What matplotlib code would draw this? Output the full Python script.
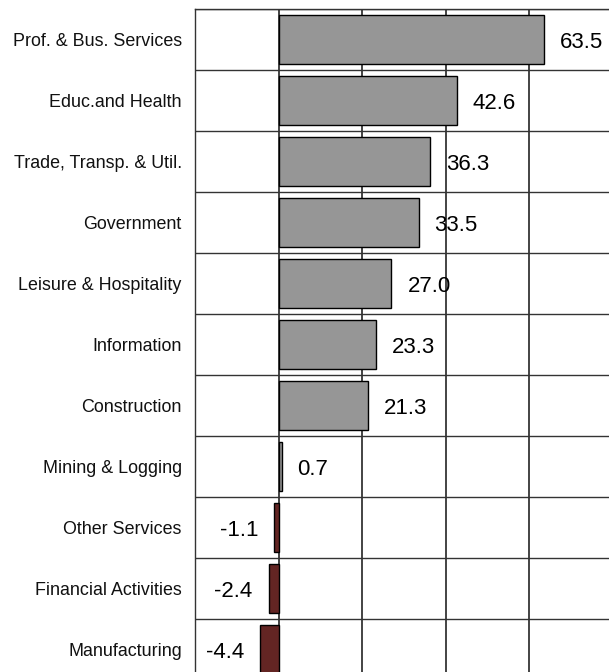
import matplotlib
matplotlib.use("Agg")
import matplotlib.pyplot as plt
import numpy as np

categories = ["Prof. & Bus. Services", "Educ.and Health", "Trade, Transp. & Util.",
              "Government", "Leisure & Hospitality", "Information", "Construction",
              "Mining & Logging", "Other Services", "Financial Activities", "Manufacturing"]
values = [63.5, 42.6, 36.3, 33.5, 27.0, 23.3, 21.3, 0.7, -1.1, -2.4, -4.4]
x_ticks = [-20, 0, 20, 40, 60, 80]

plt.rcParams['font.family'] = ['Liberation Sans', 'DejaVu Sans']

W, H = 609, 672
fig = plt.figure(figsize=(W / 100, H / 100), dpi=100)
ax = fig.add_axes([195 / W, -8 / H, (613 - 195) / W, (680 - 9) / H])

y = np.arange(len(categories))
colors = ['#969696' if v >= 0 else '#632523' for v in values]
ax.barh(y, values, height=0.8, color=colors, edgecolor='black', linewidth=1.0, zorder=3)

ax.set_xlim(-20, 80)
ax.set_ylim(len(categories) - 0.5, -0.5)
ax.set_xticks(x_ticks)
ax.set_xticklabels([])
ax.set_yticks(y)
ax.set_yticklabels(categories, fontsize=12.9, color='#111111')
ax.set_yticks(np.arange(len(categories) + 1) - 0.5, minor=True)
ax.tick_params(axis='y', which='major', length=0, pad=9.5)
ax.tick_params(axis='y', which='minor', length=0)
ax.tick_params(axis='x', length=0)

ax.grid(axis='x', which='major', color='#111111', linewidth=1.1, zorder=1)
ax.grid(axis='y', which='minor', color='#333333', linewidth=1.0, zorder=1)
ax.set_axisbelow(True)
for s in ax.spines.values():
    s.set_color('#333333')
    s.set_linewidth(1.0)

for yi, v in zip(y, values):
    if v >= 0:
        ax.annotate(f"{v:.1f}", (v, yi), xytext=(11.5, -2.5), textcoords='offset points',
                    ha='left', va='center', fontsize=16, zorder=4)
    else:
        ax.annotate(f"{v:.1f}", (v, yi), xytext=(-11.5, -2.5), textcoords='offset points',
                    ha='right', va='center', fontsize=16, zorder=4)

fig.savefig("out.png", dpi=100)
